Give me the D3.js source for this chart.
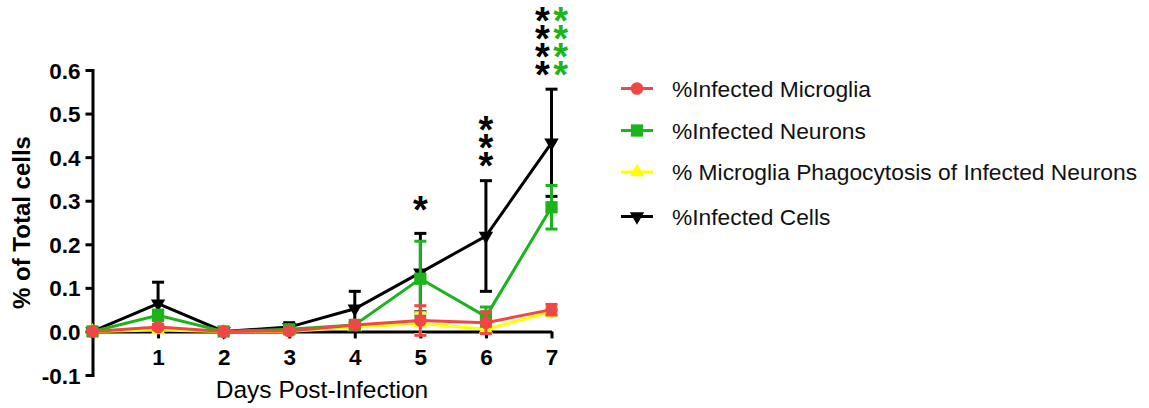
<!DOCTYPE html>
<html>
<head>
<meta charset="utf-8">
<script src="https://cdn.jsdelivr.net/npm/d3@7"></script>
<style>
  body { margin: 0; background: #fff; }
  text { font-family: Arial, "Liberation Sans", sans-serif; }
  .stars { writing-mode: vertical-rl; text-orientation: upright; }
</style>
</head>
<body>
<svg id="chart" width="1149" height="408"></svg>
<script>
'use strict'

// values
const days = [0, 1, 2, 3, 4, 5, 6, 7]
const microgliaMean = [0, 0.010, 0, 0.001, 0.015, 0.025, 0.020, 0.050]
const microgliaErr = [0, 0.005, 0, 0.002, 0.005, 0.034, 0.025, 0.012]
const neuronsMean = [0, 0.037, 0, 0.005, 0.015, 0.121, 0.034, 0.285]
const neuronsErr = [0, 0.012, 0, 0.004, 0.005, 0.086, 0.022, 0.050]
const phagoMean = [0, 0.003, 0, 0, 0.010, 0.018, 0.005, 0.045]
const phagoErr = [0, 0.004, 0, 0.002, 0.004, 0.025, 0.010, 0.010]
const cellsMean = [0, 0.064, 0, 0.010, 0.052, 0.135, 0.219, 0.433]
const cellsErr = [0, 0.049, 0, 0.010, 0.040, 0.090, 0.127, 0.123]

const xTicks = [1, 2, 3, 4, 5, 6, 7]
const yTicks = [-0.1, 0, 0.1, 0.2, 0.3, 0.4, 0.5, 0.6]

// significance marks, one stack per column: day, column offset, label, colour
const starDays = [5, 6, 7, 7]
const starColumn = [0, 0, -0.5, 0.5]
const starLabels = ['*', '***', '****', '****']
const starColor = ['black', 'black', 'black', 'green']

const RED = '#f24646'
const GREEN = '#1cb41c'
const YELLOW = '#ffff00'

const series = [
	{name: '%Infected Microglia', mean: microgliaMean, err: microgliaErr, color: RED, symbol: d3.symbolCircle, size: 125, rot: 0},
	{name: '%Infected Neurons', mean: neuronsMean, err: neuronsErr, color: GREEN, symbol: d3.symbolSquare, size: 150, rot: 0},
	{name: '% Microglia Phagocytosis of Infected Neurons', mean: phagoMean, err: phagoErr, color: YELLOW, symbol: d3.symbolTriangle, size: 90, rot: 0},
	{name: '%Infected Cells', mean: cellsMean, err: cellsErr, color: '#000', symbol: d3.symbolTriangle, size: 90, rot: 180}
]

const svg = d3.select('#chart')

const x = d3.scaleLinear().domain([0, 7]).range([92.5, 551.5])
const y = d3.scaleLinear().domain([-0.1, 0.6]).range([375, 70])

// axes
const fmt = d3.format('.1f')
const yAxis = svg.append('g')
	.attr('transform', 'translate(' + x(0) + ',0)')
	.call(d3.axisLeft(y).tickValues(yTicks).tickFormat(d => fmt(d).replace('\u2212', '-')).tickSize(7).tickSizeOuter(0).tickPadding(5))
yAxis.selectAll('path, line').attr('stroke', '#000').attr('stroke-width', 3)
yAxis.select('.domain').attr('stroke-linecap', 'square')
yAxis.selectAll('text')
	.style('font-size', '22.5px').style('font-weight', 'bold').attr('fill', '#000')
	.attr('dy', '0.36em')

const xAxis = svg.append('g')
	.attr('transform', 'translate(0,' + y(0) + ')')
	.call(d3.axisBottom(x).tickValues(xTicks).tickFormat(d3.format('d')).tickSize(7).tickSizeOuter(0))
xAxis.selectAll('path, line').attr('stroke', '#000').attr('stroke-width', 3)
xAxis.selectAll('text')
	.style('font-size', '22.5px').style('font-weight', 'bold').attr('fill', '#000')
	.attr('y', 34).attr('dy', 0)

// axis titles
svg.append('text')
	.attr('transform', 'translate(30,' + y(0.25) + ') rotate(-90)')
	.attr('text-anchor', 'middle')
	.style('font-size', '24px').style('font-weight', 'bold')
	.text('% of Total cells')

svg.append('text')
	.attr('x', (x(0) + x(7)) / 2)
	.attr('y', 398)
	.attr('text-anchor', 'middle')
	.style('font-size', '24.5px')
	.text('Days Post-Infection')

// data, last legend entry drawn first so red ends up on top
const line = d3.line().x((d, i) => x(days[i])).y(d => y(d))
const drawOrder = [3, 2, 1, 0]
const capW = 6

drawOrder.forEach(k => {
	const s = series[k]
	const g = svg.append('g')

	const bars = g.selectAll('.err')
		.data(days.filter((d, i) => s.err[i] > 0))
		.enter().append('g')
	bars.append('line')
		.attr('x1', d => x(d)).attr('x2', d => x(d))
		.attr('y1', d => y(s.mean[d] - s.err[d])).attr('y2', d => y(s.mean[d] + s.err[d]))
	bars.append('line')
		.attr('x1', d => x(d) - capW).attr('x2', d => x(d) + capW)
		.attr('y1', d => y(s.mean[d] + s.err[d])).attr('y2', d => y(s.mean[d] + s.err[d]))
	bars.append('line')
		.attr('x1', d => x(d) - capW).attr('x2', d => x(d) + capW)
		.attr('y1', d => y(s.mean[d] - s.err[d])).attr('y2', d => y(s.mean[d] - s.err[d]))
	bars.selectAll('line').attr('stroke', s.color).attr('stroke-width', 3)

	g.append('path')
		.datum(s.mean)
		.attr('d', line)
		.attr('fill', 'none')
		.attr('stroke', s.color)
		.attr('stroke-width', 3)

	g.selectAll('.pt')
		.data(s.mean)
		.enter().append('path')
		.attr('d', d3.symbol().type(s.symbol).size(s.size))
		.attr('transform', (d, i) => 'translate(' + x(days[i]) + ',' + y(d) + ') rotate(' + s.rot + ')')
		.attr('fill', s.color)
})

// significance asterisks, written as vertical columns so the stars stack
const starBottom = {5: 203, 6: 160, 7: 69.5}
const starStep = 18.3
const starSize = 38
svg.selectAll('.stars')
	.data(starDays.map((d, i) => i))
	.enter().append('text')
	.attr('class', 'stars')
	.attr('x', i => x(starDays[i]) + starColumn[i] * 18.4)
	.attr('y', i => starBottom[starDays[i]] - (starLabels[i].length - 1) * starStep - 14.5)
	.attr('fill', i => starColor[i] === 'green' ? GREEN : '#000')
	.style('font-size', starSize + 'px')
	.style('font-weight', 'bold')
	.style('letter-spacing', (starStep - starSize - 4.4) + 'px')
	.text(i => starLabels[i])

// legend
const legendY = [88.5, 130.5, 172, 216.5]
const legend = svg.selectAll('.leg')
	.data(series)
	.enter().append('g')
	.attr('transform', (d, i) => 'translate(621,' + legendY[i] + ')')
legend.append('line')
	.attr('x1', 0).attr('x2', 32)
	.attr('stroke', d => d.color).attr('stroke-width', 3)
legend.append('path')
	.attr('d', d => d3.symbol().type(d.symbol).size(d.size)())
	.attr('transform', d => 'translate(16,0) rotate(' + d.rot + ')')
	.attr('fill', d => d.color)
legend.append('text')
	.attr('x', 51)
	.attr('dy', '0.36em')
	.style('font-size', '22.8px')
	.attr('fill', '#111')
	.text(d => d.name)
</script>
</body>
</html>
